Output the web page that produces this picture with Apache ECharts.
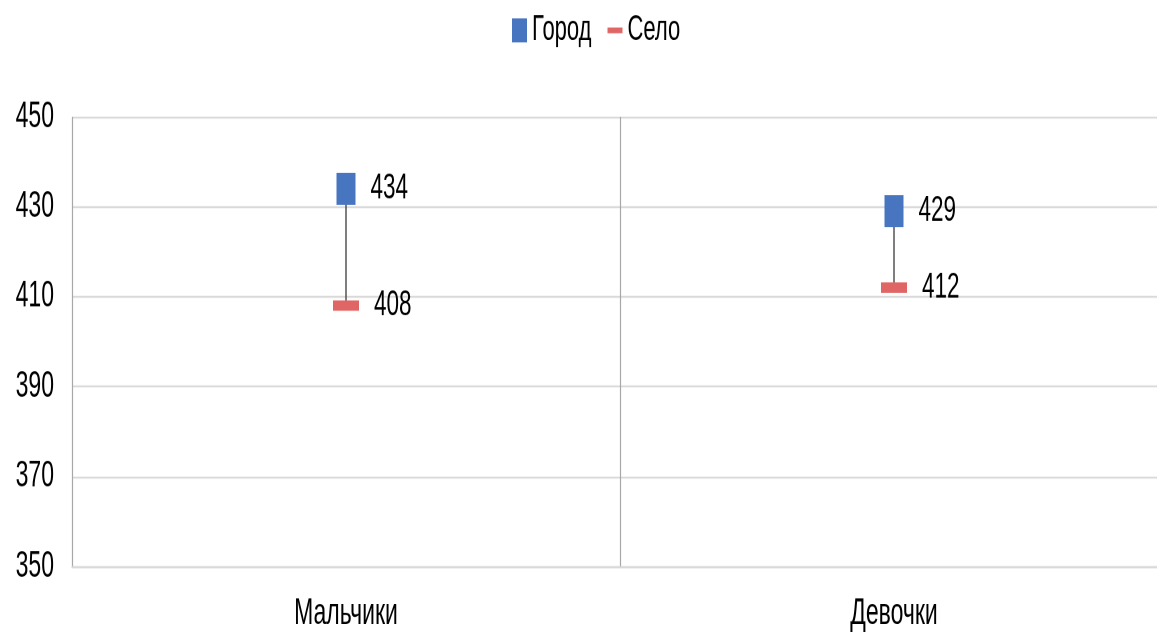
<!DOCTYPE html>
<html>
<head>
<meta charset="utf-8">
<script src="https://cdn.jsdelivr.net/npm/echarts@6/dist/echarts.min.js"></script>
<style>
  html, body { margin: 0; padding: 0; background: #fff; overflow: hidden; }
  #wrap { width: 1157px; height: 637px; overflow: hidden; }
  #chart { width: 1157px; height: 398px; transform: scaleY(1.6); transform-origin: 0 0; }
</style>
</head>
<body>
<div id="wrap"><div id="chart"></div></div>
<script>
const categories = ['Мальчики', 'Девочки'];
const cityValues = [434, 429];
const villageValues = [408, 412];
const seriesNames = ['Город', 'Село'];
const yMin = 350, yMax = 450, yStep = 20;

const FONT = "'Liberation Sans', Arial, sans-serif";
const chart = echarts.init(document.getElementById('chart'), null, { renderer: 'canvas', devicePixelRatio: 2 });

const connectorData = categories.map((c, i) => [i, cityValues[i], villageValues[i]]);

chart.setOption({
  animation: false,
  textStyle: { fontFamily: FONT },
  legend: {
    left: 512, top: 8, padding: 0,
    itemWidth: 15, itemHeight: 15, itemGap: 16,
    textStyle: { fontFamily: FONT, fontSize: 22, color: '#000' },
    data: [
      { name: seriesNames[0], icon: 'rect' },
      { name: seriesNames[1], icon: 'path://M0,0H17V4H0Z' }
    ]
  },
  grid: { left: 72, top: 73, width: 1096, height: 281, containLabel: false, outerBoundsMode: 'none' },
  xAxis: {
    type: 'category',
    data: categories,
    boundaryGap: true,
    axisLine: { show: true, lineStyle: { color: '#d9d9d9', width: 1.2 } },
    axisTick: { show: false },
    splitLine: { show: true, lineStyle: { color: '#a8a8a8', width: 1.2 } },
    axisLabel: { fontFamily: FONT, fontSize: 23, color: '#000', margin: 18 }
  },
  yAxis: {
    type: 'value',
    min: yMin, max: yMax, interval: yStep,
    axisLine: { show: false },
    axisTick: { show: false },
    splitLine: { show: true, lineStyle: { color: '#d9d9d9', width: 1.2 } },
    axisLabel: { fontFamily: FONT, fontSize: 23, color: '#000', margin: 18 }
  },
  series: [
    {
      type: 'custom',
      name: 'connector',
      z: 1,
      silent: true,
      data: connectorData,
      renderItem: function (params, api) {
        const p1 = api.coord([api.value(0), api.value(1)]);
        const p2 = api.coord([api.value(0), api.value(2)]);
        return {
          type: 'line',
          shape: { x1: p1[0], y1: p1[1], x2: p2[0], y2: p2[1] },
          style: { stroke: '#3a3a3a', lineWidth: 1.3 }
        };
      }
    },
    {
      type: 'scatter',
      name: seriesNames[0],
      z: 3,
      symbol: 'rect',
      symbolSize: [19, 20],
      itemStyle: { color: '#4775c0', opacity: 1 },
      data: cityValues,
      label: { show: true, position: 'right', distance: 15, fontFamily: FONT, fontSize: 22.5, color: '#000' }
    },
    {
      type: 'scatter',
      name: seriesNames[1],
      z: 3,
      symbol: 'rect',
      symbolSize: [26, 6.5],
      itemStyle: { color: '#e06666', opacity: 1 },
      data: villageValues,
      label: { show: true, position: 'right', distance: 15, fontFamily: FONT, fontSize: 22.5, color: '#000' }
    }
  ]
});
</script>
</body>
</html>
